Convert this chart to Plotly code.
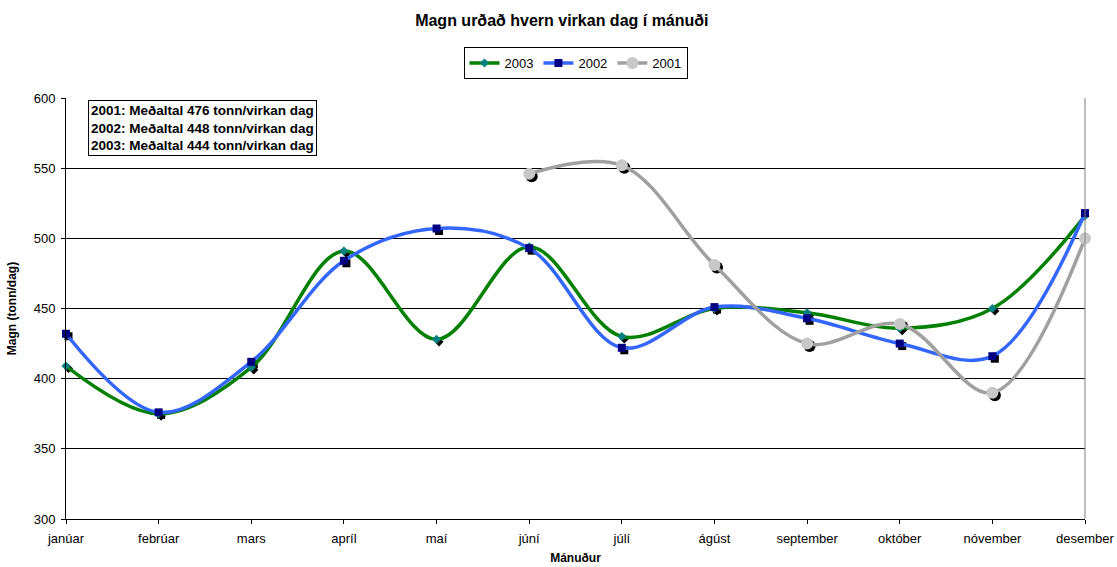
import plotly.graph_objects as go

months = ["janúar", "febrúar", "mars", "apríl", "maí", "júní", "júlí",
          "ágúst", "september", "október", "nóvember", "desember"]
v2003 = [409, 375, 408, 491, 428, 494, 430, 450, 447, 436, 450, 516]
v2002 = [432, 376, 412, 484, 507, 493, 422, 451, 443, 425, 416, 518]
v2001 = [None, None, None, None, None, 546, 552, 481, 425, 439, 390, 500]
avg_lines = ["2001: Meðaltal 476 tonn/virkan dag",
             "2002: Meðaltal 448 tonn/virkan dag",
             "2003: Meðaltal 444 tonn/virkan dag"]

xi = list(range(len(months)))
FONT = "Liberation Sans, Arial, sans-serif"

fig = go.Figure()

series = [
    ("2003", v2003, "#008000", "diamond", "#008080", 7),
    ("2002", v2002, "#3366FF", "square", "#000080", 8),
    ("2001", v2001, "#A0A0A0", "circle", "#C8C8C8", 12),
]

# shadows (black markers) on hidden base axes, slightly shifted
for name, vals, lc, sym, mc, ms in series:
    fig.add_trace(go.Scatter(
        x=xi, y=vals, mode="markers", xaxis="x", yaxis="y",
        marker=dict(symbol=sym, color="black", size=ms),
        showlegend=False, hoverinfo="skip", cliponaxis=False))

for name, vals, lc, sym, mc, ms in series:
    fig.add_trace(go.Scatter(
        x=xi, y=vals, name=name, mode="lines+markers", xaxis="x2", yaxis="y2",
        line=dict(color=lc, width=3.5, shape="spline", smoothing=1.0),
        marker=dict(symbol=sym, color=mc, size=ms),
        connectgaps=False, cliponaxis=False))

W, H = 1117, 567
L, R, T, B = 66, 32, 98, 48
PLOT_W = W - L - R
PLOT_H = H - T - B
dx = 2.5 * 11 / PLOT_W
dy = 2.5 * 300 / PLOT_H

fig.update_layout(
    width=W, height=H,
    margin=dict(l=L, r=R, t=T, b=B, autoexpand=False),
    paper_bgcolor="white", plot_bgcolor="white",
    font=dict(family=FONT, size=13, color="black"),
    title=dict(text="<b>Magn urðað hvern virkan dag í mánuði</b>",
               x=0.503, xanchor="center", yref="container", y=1 - 20 / H,
               yanchor="middle", font=dict(size=16)),
    legend=dict(orientation="h", x=0.5, xanchor="center",
                yref="container", y=1 - 63 / H, yanchor="middle",
                bordercolor="black", borderwidth=1, bgcolor="white",
                font=dict(size=13), tracegroupgap=0, itemsizing="trace"),
    xaxis=dict(range=[-dx, 11 - dx], visible=False),
    yaxis=dict(range=[300 + dy, 600 + dy], visible=False),
    xaxis2=dict(overlaying="x", range=[0, 11], tickmode="array", tickvals=xi,
                ticktext=months, showgrid=False, zeroline=False, showline=True,
                linecolor="black", ticks="outside", ticklen=4, tickcolor="black",
                ticklabelstandoff=3, anchor="y2", side="bottom",
                title=dict(text="<b>Mánuður</b>", standoff=9, font=dict(size=12))),
    yaxis2=dict(overlaying="y", range=[300, 600],
                tickvals=[300, 350, 400, 450, 500, 550, 600],
                showgrid=True, gridcolor="black", gridwidth=1, zeroline=False,
                showline=True, linecolor="black", ticks="outside", ticklen=4,
                tickcolor="black", ticklabelstandoff=3, anchor="x2", side="left",
                title=dict(text="<b>Magn (tonn/dag)</b>", standoff=14,
                           font=dict(size=12))),
)

fig.add_shape(type="line", xref="paper", yref="paper", x0=1, x1=1, y0=0, y1=1,
              line=dict(color="#808080", width=1))

fig.add_annotation(
    xref="paper", yref="paper", x=0.0216, y=0.995, xanchor="left", yanchor="top",
    text="<br>".join(f"<b>{t}</b>" for t in avg_lines), align="left",
    showarrow=False, bordercolor="black", borderwidth=1, bgcolor="white",
    borderpad=2, font=dict(size=13.5))

fig.write_html(
    "out.html",
    config={"displayModeBar": False},
    post_script="document.body.style.margin='0';document.body.style.overflow='hidden';")
